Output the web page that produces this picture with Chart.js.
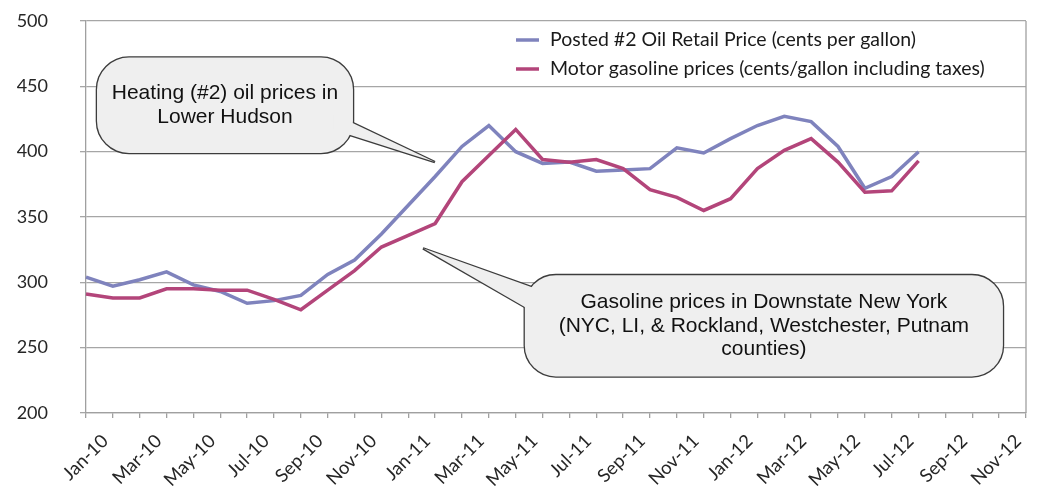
<!DOCTYPE html>
<html>
<head>
<meta charset="utf-8">
<script src="https://cdn.jsdelivr.net/npm/chart.js@4.4.0/dist/chart.umd.min.js"></script>
<style>
  html, body { margin: 0; padding: 0; background: #fff; }
</style>
</head>
<body>
<canvas id="chart" width="1037" height="498"></canvas>
<script>
// Monthly categories, Jan-10 .. Dec-12 (labels shown every other month)
const monthLabels = [
  'Jan-10', 'Feb-10', 'Mar-10', 'Apr-10', 'May-10', 'Jun-10', 'Jul-10', 'Aug-10', 'Sep-10', 'Oct-10', 'Nov-10', 'Dec-10',
  'Jan-11', 'Feb-11', 'Mar-11', 'Apr-11', 'May-11', 'Jun-11', 'Jul-11', 'Aug-11', 'Sep-11', 'Oct-11', 'Nov-11', 'Dec-11',
  'Jan-12', 'Feb-12', 'Mar-12', 'Apr-12', 'May-12', 'Jun-12', 'Jul-12', 'Aug-12', 'Sep-12', 'Oct-12', 'Nov-12', 'Dec-12',
];

const seriesNames = [
  'Posted #2 Oil Retail Price (cents per gallon)',
  'Motor gasoline prices (cents/gallon including taxes)',
];

// cents per gallon, Jan-10 .. Aug-12
const oilPrices = [
  304, 297, 302, 308, 298, 293, 284, 286, 290, 306, 317, 337,
  359, 381, 404, 420, 400, 391, 392, 385, 386, 387, 403, 399,
  410, 420, 427, 423, 404, 372, 381, 400,
];
const gasPrices = [
  291, 288, 288, 295, 295, 294, 294, 287, 279, 294, 309, 327,
  336, 345, 377, 397, 417, 394, 392, 394, 387, 371, 365, 355,
  364, 387, 401, 410, 392, 369, 370, 393,
];

const yMin = 200;
const yMax = 500;
const yStep = 50;

// callouts: box and pointer given in axis units (category index, cents)
const callouts = [
  {
    lines: ['Heating (#2) oil prices in', 'Lower Hudson'],
    box: { x0: 0.41, x1: 9.94, y0: 472, y1: 399 },
    radius: 32,
    tip: { x: 12.99, y: 392 },
    base: [{ x: 9.2, y: 429 }, { x: 9.2, y: 417 }],
  },
  {
    lines: ['Gasoline prices in Downstate New York', '(NYC, LI, & Rockland, Westchester, Putnam', 'counties)'],
    box: { x0: 16.34, x1: 34.14, y0: 305.5, y1: 228 },
    radius: 31,
    tip: { x: 12.55, y: 326 },
    base: [{ x: 17.46, y: 290 }, { x: 16.9, y: 274.5 }],
  },
];

const AXIS_FONT = 'Lato, "Open Sans", sans-serif';
const CALLOUT_FONT = '"Liberation Sans", Arial, sans-serif';

const plotBorder = {
  id: 'plotBorder',
  beforeDatasetsDraw(chart) {
    const { ctx, chartArea: a } = chart;
    ctx.save();
    ctx.strokeStyle = '#a0a0a0';
    ctx.lineWidth = 1.3;
    ctx.beginPath();
    ctx.moveTo(a.right, a.top);
    ctx.lineTo(a.right, a.bottom);
    ctx.stroke();
    ctx.restore();
  },
};

const calloutPlugin = {
  id: 'callouts',
  afterDatasetsDraw(chart) {
    const { ctx, scales: { x, y } } = chart;
    const px = (v) => x.getPixelForValue(v);
    const py = (v) => y.getPixelForValue(v);
    callouts.forEach((c) => {
      const bx = px(c.box.x0);
      const by = py(c.box.y0);
      const bw = px(c.box.x1) - bx;
      const bh = py(c.box.y1) - by;
      const rect = new Path2D();
      rect.roundRect(bx, by, bw, bh, c.radius);
      const wedge = new Path2D();
      wedge.moveTo(px(c.base[0].x), py(c.base[0].y));
      wedge.lineTo(px(c.tip.x), py(c.tip.y));
      wedge.lineTo(px(c.base[1].x), py(c.base[1].y));
      wedge.closePath();
      ctx.save();
      // stroke double width, then fill over the inner half => outline of the union
      ctx.strokeStyle = '#3c3c3c';
      ctx.lineWidth = 2.6;
      ctx.stroke(rect);
      ctx.stroke(wedge);
      ctx.fillStyle = '#efefef';
      ctx.fill(rect);
      ctx.fill(wedge);
      ctx.fillStyle = '#111';
      ctx.font = '21px ' + CALLOUT_FONT;
      ctx.textAlign = 'center';
      ctx.textBaseline = 'middle';
      const lh = 23.5;
      const cx = bx + bw / 2;
      const cy = by + bh / 2 - ((c.lines.length - 1) * lh) / 2;
      c.lines.forEach((t, i) => ctx.fillText(t, cx, cy + i * lh));
      ctx.restore();
    });
  },
};

const legendPlugin = {
  id: 'insideLegend',
  afterDraw(chart) {
    const { ctx } = chart;
    ctx.save();
    ctx.font = '19.5px ' + AXIS_FONT;
    ctx.textBaseline = 'middle';
    chart.data.datasets.forEach((ds, i) => {
      const ly = 40 + i * 29;
      ctx.strokeStyle = ds.borderColor;
      ctx.lineWidth = 3.5;
      ctx.beginPath();
      ctx.moveTo(516, ly);
      ctx.lineTo(539, ly);
      ctx.stroke();
      ctx.fillStyle = '#1a1a1a';
      ctx.fillText(ds.label, 550, ly);
    });
    ctx.restore();
  },
};

// rotated month labels, Excel style (end of text just right of the tick)
const xLabelPlugin = {
  id: 'xLabels',
  afterDraw(chart) {
    const { ctx, scales: { x } } = chart;
    ctx.save();
    ctx.font = '18.5px ' + AXIS_FONT;
    ctx.fillStyle = '#262626';
    ctx.textAlign = 'right';
    ctx.textBaseline = 'middle';
    monthLabels.forEach((m, i) => {
      if (i % 2) return;
      ctx.save();
      ctx.translate(x.getPixelForValue(i) + 19, x.top + 25);
      ctx.rotate(-Math.PI / 4);
      ctx.fillText(m, 0, 0);
      ctx.restore();
    });
    ctx.restore();
  },
};

new Chart(document.getElementById('chart'), {
  type: 'line',
  data: {
    labels: monthLabels,
    datasets: [
      {
        label: seriesNames[0],
        data: oilPrices,
        borderColor: '#7f83bd',
        borderWidth: 3.5,
        pointRadius: 0,
        tension: 0,
        order: 1,
      },
      {
        label: seriesNames[1],
        data: gasPrices,
        borderColor: '#b3457a',
        borderWidth: 3.5,
        pointRadius: 0,
        tension: 0,
        order: 0,
      },
    ],
  },
  options: {
    responsive: false,
    animation: false,
    devicePixelRatio: 1,
    layout: { padding: { top: 21, right: 11, left: 0, bottom: 0 } },
    plugins: { legend: { display: false }, tooltip: { enabled: false } },
    scales: {
      x: {
        offset: false,
        grid: { drawOnChartArea: false, tickLength: 5, color: '#a0a0a0', lineWidth: 1.3 },
        border: { color: '#a0a0a0', width: 1.3 },
        ticks: { display: false, autoSkip: false },
        afterFit(s) { s.height = 85; },
      },
      y: {
        min: yMin,
        max: yMax,
        ticks: { stepSize: yStep, padding: 32, color: '#262626', font: { family: AXIS_FONT, size: 18 } },
        grid: { color: '#a6a6a6', lineWidth: 1.3, tickLength: 6 },
        border: { color: '#a0a0a0', width: 1.3 },
        afterFit(s) {
          s.width = 86;
          // the big label padding would otherwise push the plot area down
          s.paddingTop = 0;
          s.paddingBottom = 0;
        },
      },
    },
  },
  plugins: [plotBorder, calloutPlugin, legendPlugin, xLabelPlugin],
});
</script>
</body>
</html>
